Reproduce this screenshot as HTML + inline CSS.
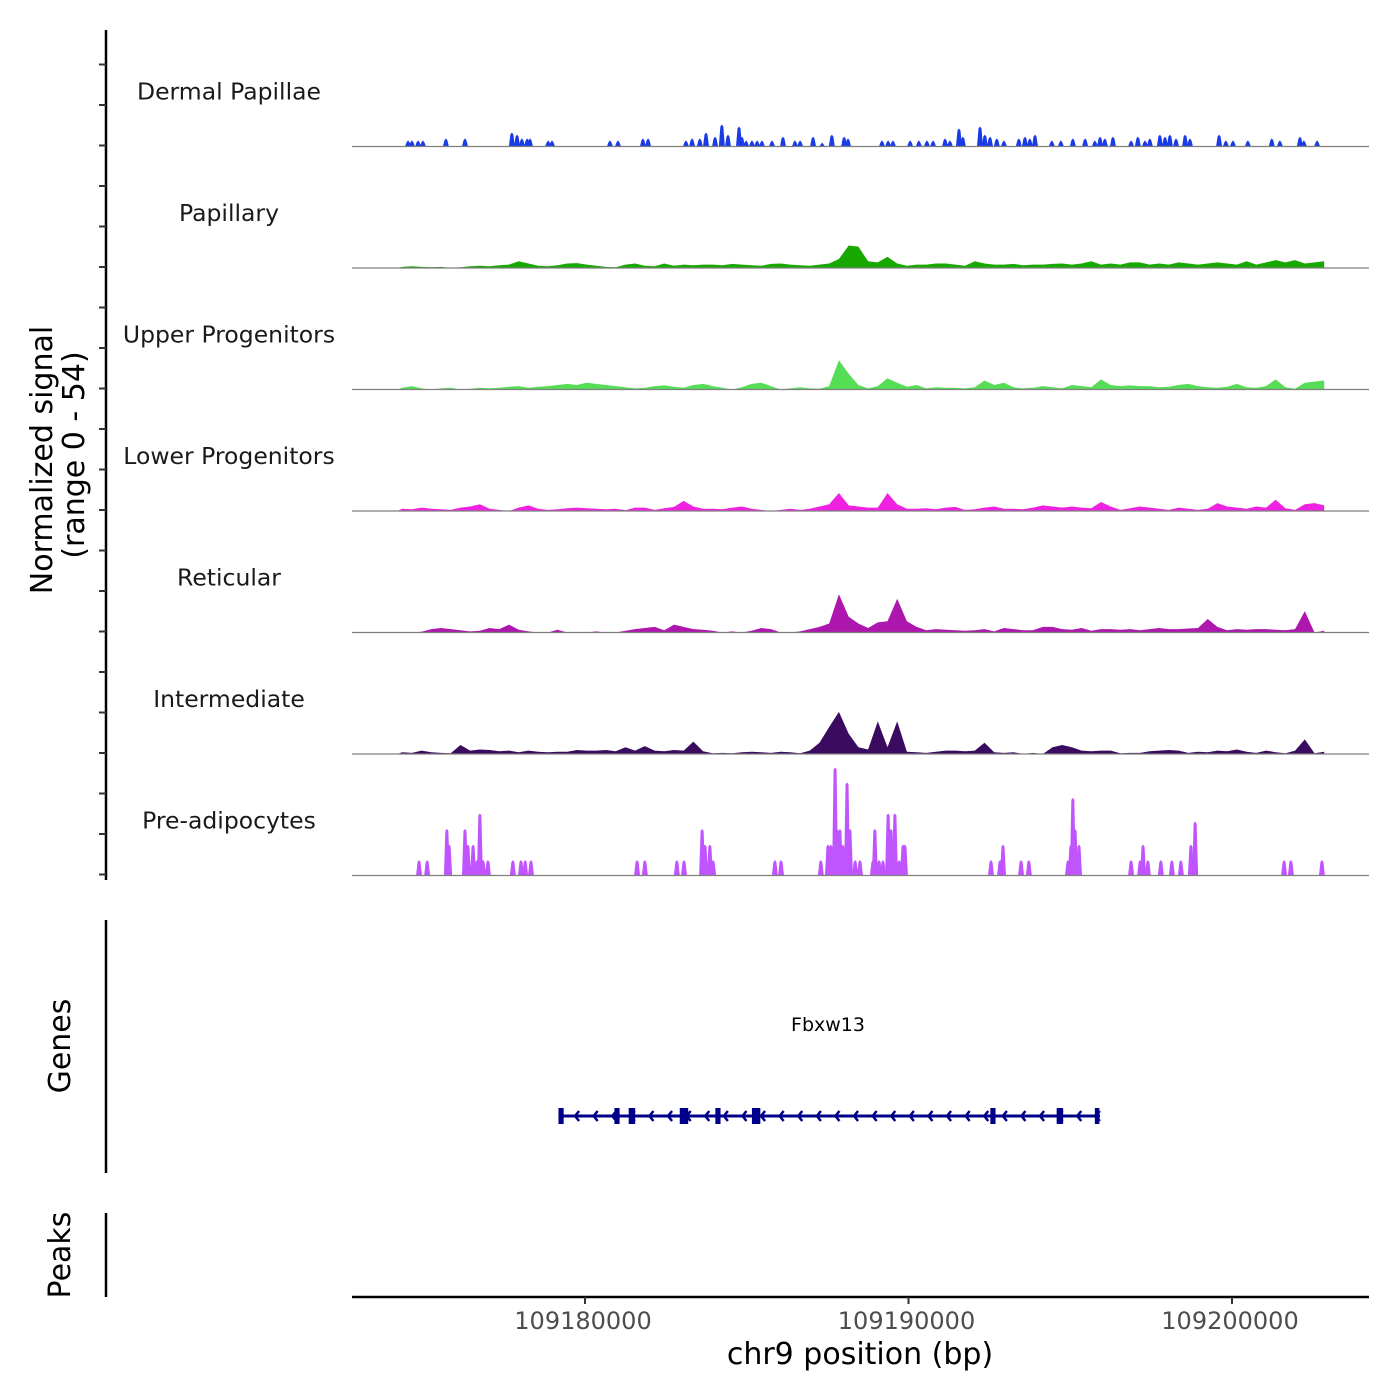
<!DOCTYPE html>
<html><head><meta charset="utf-8">
<style>
html,body{margin:0;padding:0;background:#fff;}
svg{display:block;font-family:"DejaVu Sans","Liberation Sans",sans-serif;}
</style></head>
<body>
<svg id="chart" width="1400" height="1400" viewBox="0 0 1400 1400" xmlns="http://www.w3.org/2000/svg">
<rect width="1400" height="1400" fill="#fff"/>
<g id="tracks"></g>
<g id="yaxis"></g>
<text transform="translate(52,460) rotate(-90)" text-anchor="middle" font-size="30" fill="#000">Normalized signal</text>
<text transform="translate(84,455) rotate(-90)" text-anchor="middle" font-size="30" fill="#000">(range 0 - 54)</text>
<line x1="106" y1="920" x2="106" y2="1173" stroke="#000" stroke-width="2.5"/>
<text transform="translate(70,1046) rotate(-90)" text-anchor="middle" font-size="30" fill="#000">Genes</text>
<g id="genes"></g>
<line x1="106" y1="1213" x2="106" y2="1297" stroke="#000" stroke-width="2.5"/>
<text transform="translate(70,1255) rotate(-90)" text-anchor="middle" font-size="30" fill="#000">Peaks</text>
<line x1="352" y1="1297" x2="1369" y2="1297" stroke="#000" stroke-width="2.5"/>
<g id="xaxis"></g>
<text x="860" y="1364" text-anchor="middle" font-size="30" fill="#000">chr9 position (bp)</text>
</svg>
<script>
// ---- data (genomic positions in kb) ----
const xTicks = [109180, 109190, 109200];
const xTickLabels = ["109180000", "109190000", "109200000"];
const trackNames = ["Dermal Papillae","Papillary","Upper Progenitors","Lower Progenitors","Reticular","Intermediate","Pre-adipocytes"];
const trackColors = ["#1a3ce6","#17a900","#55dd55","#ee22e0","#ad17ad","#3a0b5e","#c055ff"];
const binStartKb = 109174.2;
const binSizeKb = 0.3;
const papillary = [0.5,0.8,0.5,0.3,0.5,0,0.3,0.8,1,0.8,1.2, 1.5,3,2,1,0.8,1.2,2,2.2,1.5,1, 0.5,0.3,1.5,2,1,0.8,2,1,1.5,1.2, 1.5,1.5,1.2,1.8,1.5,1.2,1,1.8,2,1.5, 1.2,1,1.5,2,4, 10,9.5,3,2.5,5,2,1,1.5,1.5,2,2,1.5,1,3,2,1.5,1.5,1.8,1.2,1.5,1.5,1.8,2,1.5,2,3,1.5,2,1.5,2.5,2.5,1.5,2,1.5,2.5,2,1.5,2,2.5,2,1.5,3,1.5,2.5,3.5,2.5,3.5,2,2.5,3];
const upperProg = [0.8,1.5,0.5,0,0.5,0.8,0,0.3,0.8,0.5, 0.8,1.2,1.5,0.8,1.2,1.5,2,2.5,2,3, 2.5,2,1.5,1,0.5,0.8,1.5,1.8,1.2,0.8, 2,2.5,1.5,0.8,0,1,2.5,3,1.5,0, 0.5,1,0.5,0.3,1.5,13,7,2,0.5,1.5, 5,3,1.2,2,0.5,1,0.8,0.8,0.5,1, 4,2,3,1,0.5,0.8,1.5,1,0.5,2, 1.5,1,4.5,2,1.5,1.8,1.5,1.5,1,1.2, 2,2.5,1.5,1,0.8,1.2,2.5,1,0.8,1.5, 4.5,1,0.3,3,3.5,4];
const lowerProg = [1,0.8,1.5,1,0.8,0.5,1.5,2,3,1, 0.5,0,1.5,2.5,1,0.5,0.8,1.2,1.5,1.2, 1,0.8,1,0.3,1.5,1.5,0.5,1.2,1.8,4.5, 2,1,1,0.8,1.5,2,1,0.5,0,0.5, 1,0.5,1,2,3,8,2.5,2,1.5,1.5, 8,3,1,1,1.2,0.8,1.5,1.8,0.5,0.8, 1.5,2,1,1,0.8,1.5,2.5,2,1.5,2, 1.5,1.2,4,2,0.5,1.2,2,1.5,1,0.5, 1.5,1,0.5,1,3.5,2,1.5,1,2,1.5, 5,1.2,0.5,3,3.5,2.5];
const reticular = [0,0,0.3,1.5,2,1.5,1,0.5,0.8,2, 1.5,3.5,1.2,0.5,0,0,1.2,0,0,0, 0.5,0,0,0.8,1.5,2,2.5,1,3.5,2.5, 1.5,1.2,0.8,0,0.5,0,0.8,2,1.5,0, 0,0.5,1.5,2.5,4,17,7,4,2,4.5, 5,15,5,2.5,1,1.5,1.2,1,0.8,1, 1.5,0.5,2,1.5,1,1,2.5,2.5,1.5,1.2, 2,0.8,1.5,1.5,1.2,1.5,1,1.5,2,1.5, 1.5,1.8,2,6,2.5,1,1.5,1.2,1.5,1.5, 1.2,1,1.5,9.5,0,0.8];
const intermediate = [0.8,0.5,1.5,0.8,0.5,0.3,4,1.5,2,1.8, 1.2,1.5,0.8,1.5,1,0.8,1,1,1.8,1.5, 1.5,1.8,1.2,3,1.5,3.5,1.5,1.2,1.8,1.5, 5.5,1.2,0.3,0.5,0.3,0.8,1,0.8,0.5,1, 0.8,0.3,1.5,5,12,18.7,9,3,2,14.5, 3,14.5,1,0.8,0.5,1,1.5,1.5,1.2,1.5, 5,0.8,0.5,0.8,0,0.5,0,3,4,3, 1.5,1.2,1.5,1.5,0.3,0.5,0.5,1.2,1.5,1.8, 1.5,0.5,1,0.8,1.5,1.2,2,1,0.5,1.5, 0.8,0.3,1.5,6.5,0.3,1];
const dermalPos = [109174.53,109174.65,109174.84,109174.99,109175.70,109176.29,109177.74,109177.90,109178.05,109178.21,109178.30,109178.86,109178.98,109180.77,109181.02,109181.79,109181.95,109183.12,109183.31,109183.55,109183.74,109184.02,109184.23,109184.42,109184.76,109184.85,109184.98,109185.16,109185.32,109185.47,109185.78,109186.12,109186.49,109186.65,109187.05,109187.33,109187.63,109188.01,109188.13,109189.18,109189.37,109189.52,109190.05,109190.32,109190.57,109190.76,109191.13,109191.28,109191.56,109191.68,109192.21,109192.36,109192.52,109192.73,109192.95,109193.41,109193.60,109193.75,109193.91,109194.43,109194.71,109195.08,109195.46,109195.76,109195.92,109196.07,109196.32,109196.88,109197.09,109197.31,109197.46,109197.77,109197.93,109198.08,109198.27,109198.55,109198.70,109199.60,109199.81,109200.03,109200.49,109201.23,109201.48,109202.10,109202.22,109202.63];
const dermalVal = [2.7,2.7,2.7,2.7,3.6,3.6,6.2,5.3,3.6,3.6,3.6,2.7,2.7,2.7,2.7,3.6,3.6,2.7,3.6,3.6,6.2,4.4,9.8,5.3,8.9,4.4,2.7,2.7,2.7,2.7,2.7,4.4,2.7,2.7,4.4,1.8,5.3,4.4,3.6,2.7,2.7,2.7,2.7,2.7,2.7,2.7,3.6,2.7,8,4.4,8.9,5.3,4.4,3.6,2.7,3.6,4.4,3.6,5.3,2.7,2.7,3.6,3.6,2.7,4.4,3.6,4.4,2.7,4.4,2.7,3.6,5.3,4.4,5.3,3.6,5.3,3.6,5.3,2.7,2.7,2.7,3.6,2.7,4.4,2.7,2.7];
const adipoPos = [109174.87,109175.12,109175.73,109175.80,109176.29,109176.38,109176.54,109176.66,109176.75,109176.85,109177.00,109177.77,109178.02,109178.15,109178.33,109181.61,109181.85,109182.84,109183.06,109183.62,109183.71,109183.86,109183.96,109185.87,109186.06,109187.29,109187.51,109187.60,109187.73,109187.79,109187.88,109187.97,109188.10,109188.19,109188.35,109188.50,109188.90,109188.96,109189.09,109189.21,109189.37,109189.46,109189.58,109189.71,109189.83,109189.89,109192.55,109192.83,109192.92,109193.48,109193.72,109194.93,109195.02,109195.08,109195.15,109195.27,109196.88,109197.16,109197.25,109197.40,109197.80,109198.14,109198.42,109198.73,109198.86,109201.61,109201.82,109202.78];
const adipoVal = [6.9,6.9,20.7,13.8,20.7,13.8,13.8,6.9,27.6,6.9,6.9,6.9,6.9,6.9,6.9,6.9,6.9,6.9,6.9,20.7,13.8,13.8,6.9,6.9,6.9,6.9,13.8,13.8,48,20.7,20.7,13.8,41.4,20.7,6.9,6.9,6.9,20.7,6.9,6.9,27.6,20.7,27.6,6.9,13.8,13.8,6.9,6.9,13.8,6.9,6.9,6.9,13.8,34.5,20.7,13.8,6.9,6.9,13.8,6.9,6.9,6.9,6.9,13.8,24,6.9,6.9,6.9];
const geneStartKb = 109179.26, geneEndKb = 109195.92;
const exonPos = [109179.26,109180.99,109181.45,109183.06,109184.11,109185.29,109192.61,109194.68,109195.83];
const exonWid = [0.16,0.16,0.2,0.26,0.16,0.26,0.16,0.2,0.14];

// ---- scales ----
const NS = "http://www.w3.org/2000/svg";
function xs(kb){ return 585 + (kb - 109180) * 32.35; }
const trackH = 121.5, firstBase = 146.5, pxPerUnit = 2.25;
function base(t){ return firstBase + t * trackH; }
function ys(t, v){ return base(t) - v * pxPerUnit; }
function mk(tag, attrs, parent){ const e = document.createElementNS(NS, tag); for (const k in attrs) e.setAttribute(k, attrs[k]); parent.appendChild(e); return e; }

const tracks = document.getElementById('tracks');
const binned = [null, papillary, upperProg, lowerProg, reticular, intermediate, null];
for (let t = 0; t < 7; t++){
  const g = mk('g', {}, tracks);
  
  
  const lab = mk('text', {x:229, y:base(t) - 47, 'text-anchor':'middle', 'font-size':23.5, fill:'#1a1a1a'}, g);
  lab.textContent = trackNames[t];
  
  
  const arr = binned[t];
  if (arr){
    let d = 'M' + xs(binStartKb) + ',' + base(t);
    arr.forEach((v,i)=>{ d += ' L' + xs(binStartKb + (i+0.5)*binSizeKb).toFixed(1) + ',' + ys(t, v).toFixed(1); });
    d += ' L' + xs(binStartKb + arr.length*binSizeKb - 0.15) + ',' + base(t) + ' Z';
    const p = mk('path', {d:d, fill:trackColors[t]}, g);
    
    
  } else {
    const pos = t === 0 ? dermalPos : adipoPos;
    const val = t === 0 ? dermalVal : adipoVal;
    pos.forEach((kb,i)=>{
      const x = xs(kb), y = ys(t, val[i]);
      const p = mk('path', {d:`M${x-3},${base(t)} L${x-1.5},${y+2} L${x},${y} L${x+1.5},${y+2} L${x+3},${base(t)} Z`, fill:trackColors[t]}, g);
      
      
    });
  }
  const bl = mk('line', {x1:352, x2:1369, y1:base(t), y2:base(t), stroke:'#7f7f7f', 'stroke-width':1.2}, g);
  
  
}

// y axis
const ya = document.getElementById('yaxis');
const yl = mk('line', {x1:106, x2:106, y1:30, y2:880, stroke:'#000', 'stroke-width':2.5}, ya);


for (let k = 0; k < 21; k++){
  const y = 64.5 + k * 40.5;
  const tk = mk('line', {x1:99, x2:106, y1:y, y2:y, stroke:'#333', 'stroke-width':2}, ya);
  
  
}

// x axis
const xa = document.getElementById('xaxis');
xTicks.forEach((kb,i)=>{
  const x = xs(kb);
  const tk = mk('line', {x1:x, x2:x, y1:1297, y2:1304, stroke:'#333', 'stroke-width':2}, xa);
  
  
  const tl = mk('text', {x:x - 2, y:1329, 'text-anchor':'middle', 'font-size':24, fill:'#4d4d4d'}, xa);
  tl.textContent = xTickLabels[i];
  
  
});

// gene
const gg = document.getElementById('genes');
const gy = 1116, gc = '#00008b';
const gl = mk('text', {x:828, y:1031, 'text-anchor':'middle', 'font-size':19, fill:'#000'}, gg);
gl.textContent = 'Fbxw13';


const gline = mk('line', {x1:xs(geneStartKb), x2:xs(geneEndKb), y1:gy, y2:gy, stroke:gc, 'stroke-width':3}, gg);


for (let x = xs(geneStartKb) + 14; x < xs(geneEndKb) - 4; x += 18.6){
  const c = mk('path', {d:`M${x+4},${gy-5} L${x},${gy} L${x+4},${gy+5}`, fill:'none', stroke:gc, 'stroke-width':2.5}, gg);
  
  
}
exonPos.forEach((kb,i)=>{
  const x = xs(kb), w = exonWid[i] * 32.35;
  const r = mk('rect', {x:x - w/2, y:gy - 8, width:w, height:16, fill:gc}, gg);
  
  
});
</script>
</body></html>
